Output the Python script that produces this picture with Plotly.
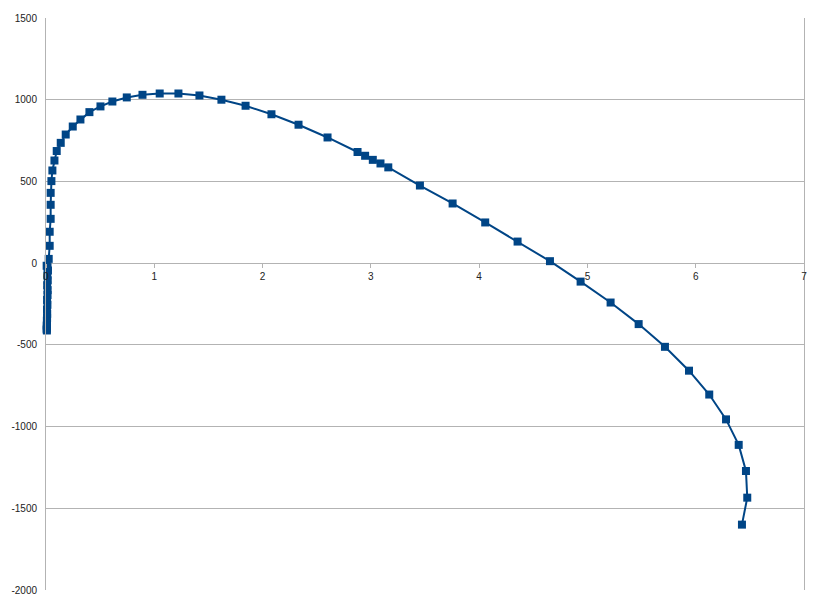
import plotly.graph_objects as go

# Near-origin cluster (bottom to top), then the arc
x_vals = [0.008, 0.006, 0.008, 0.007, 0.009, 0.008, 0.01, 0.011, 0.009, 0.013, 0.01,
          0.014, 0.015, 0.011, 0.016, 0.012, 0.018, 0.014,
          0.006, 0.025, 0.034, 0.034, 0.043, 0.043, 0.043, 0.05, 0.059, 0.078, 0.099,
          0.136, 0.182, 0.247, 0.318, 0.401, 0.503, 0.613, 0.746, 0.891, 1.050, 1.223,
          1.417, 1.620, 1.843, 2.082, 2.332, 2.600, 2.877, 2.947, 3.018, 3.089, 3.161,
          3.453, 3.755, 4.056, 4.355, 4.654, 4.937, 5.214, 5.473, 5.716, 5.938, 6.125,
          6.280, 6.397, 6.464, 6.476, 6.427]
y_vals = [-412, -405, -395, -382, -368, -352, -335, -310, -285, -255, -225,
          -195, -165, -135, -105, -75, -45, -25,
          -16, 26, 106, 192, 271, 357, 430, 502, 567, 628, 686,
          736, 787, 836, 879, 924, 959, 989, 1014, 1030, 1038, 1038,
          1026, 1000, 963, 911, 847, 769, 680, 657, 632, 610, 586,
          475, 365, 249, 132, 12, -113, -241, -373, -512, -658, -804,
          -956, -1112, -1272, -1435, -1600]

x_ticks = [0, 1, 2, 3, 4, 5, 6, 7]
y_ticks = [-2000, -1500, -1000, -500, 0, 500, 1000, 1500]

color = "#004586"
fig = go.Figure()
fig.add_trace(go.Scatter(
    x=x_vals, y=y_vals, mode="lines+markers",
    line=dict(color=color, width=2),
    marker=dict(symbol="square", size=8, color=color),
    cliponaxis=False,
    showlegend=False,
))

y_min, y_max = -2000, 1500
fig.update_layout(
    width=807, height=591,
    margin=dict(l=38, r=11, t=10, b=9),
    paper_bgcolor="white", plot_bgcolor="white",
    font=dict(family="Liberation Sans, Arial, sans-serif", size=10, color="#222222"),
    xaxis=dict(
        range=[0, 7], tickvals=x_ticks, ticktext=[str(v) for v in x_ticks],
        showgrid=False, zeroline=False, showline=False,
        ticks="outside", ticklen=4, tickcolor="#b3b3b3",
        anchor="free", position=(0 - y_min) / (y_max - y_min),
        automargin=False,
    ),
    yaxis=dict(
        range=[y_min, y_max], tickvals=y_ticks, ticktext=[str(v) for v in y_ticks],
        showgrid=True, gridcolor="#b3b3b3", gridwidth=1,
        zeroline=False, showline=True, linecolor="#b3b3b3", linewidth=1, mirror=True,
        ticks="", ticklabelstandoff=6, automargin=False,
    ),
)

fig.write_html("out.html")
